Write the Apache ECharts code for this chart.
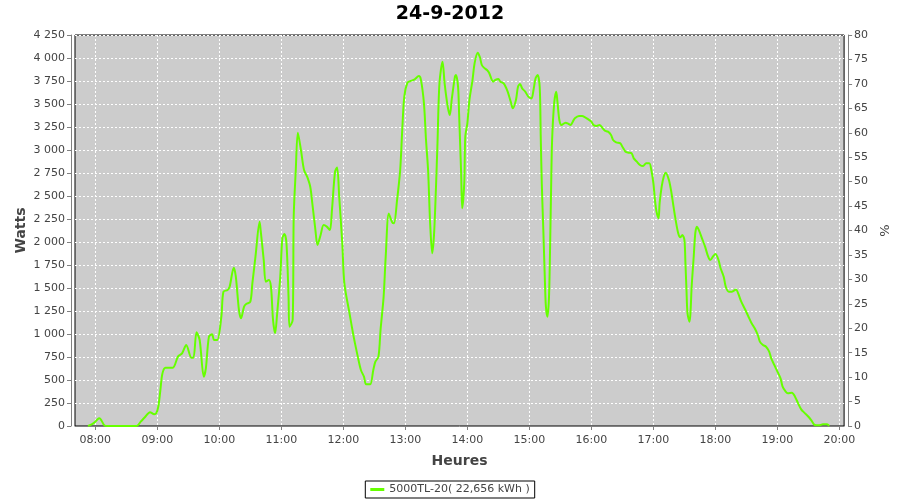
<!DOCTYPE html>
<html><head><meta charset="utf-8">
<script src="https://cdn.jsdelivr.net/npm/echarts@6/dist/echarts.min.js"></script>
<style>html,body{margin:0;padding:0;background:#fff}#c{width:900px;height:500px}</style>
</head><body><div id="c"></div>
<script>
const chartTitle = '24-9-2012';
const seriesName = '5000TL-20( 22,656 kWh )';
const xAxisName = 'Heures';
const yAxisName = 'Watts';
const y2AxisName = '%';
const xTickLabels = ['08:00','09:00','10:00','11:00','12:00','13:00','14:00','15:00','16:00','17:00','18:00','19:00','20:00'];

const times = [
'07:53','07:57','08:00','08:02','08:04','08:06','08:09','08:12','08:40','08:44','08:48','08:53','08:57','08:59',
'09:01','09:03','09:05','09:08','09:15','09:20','09:24','09:28','09:33','09:35','09:38','09:41','09:45','09:47',
'09:50','09:53','09:55','09:58','10:02','10:04','10:08','10:10','10:14','10:16','10:19','10:21','10:24','10:26',
'10:30','10:32','10:35','10:39','10:40','10:43','10:45','10:48','10:50','10:52','10:54','10:56','10:59','11:01',
'11:03','11:05','11:07','11:08','11:11','11:12','11:14','11:16','11:19','11:22','11:25','11:28','11:30','11:33',
'11:35','11:38','11:41','11:44','11:47','11:49','11:52','11:54','11:56','11:59','12:01','12:06','12:10','12:14',
'12:17','12:20','12:22','12:26','12:29','12:31','12:34','12:36','12:39','12:41','12:44','12:47','12:49','12:52',
'12:55','12:57','12:59','13:02','13:05','13:09','13:13','13:15','13:18','13:20','13:22','13:24','13:26','13:28',
'13:31','13:33','13:36','13:38','13:41','13:43','13:45','13:48','13:49','13:51','13:52','13:53','13:54','13:55',
'13:57','13:58','14:00','14:02','14:05','14:07','14:10','14:12','14:14','14:16','14:19','14:21','14:25','14:27',
'14:30','14:32','14:35','14:37','14:39','14:42','14:44','14:47','14:49','14:51','14:53','14:56','14:59','15:02',
'15:04','15:06','15:08','15:10','15:11','15:12','15:13:30','15:15','15:16','15:17:30','15:19','15:20','15:21','15:22',
'15:24','15:26','15:27','15:29','15:31','15:35','15:37','15:40','15:42','15:44','15:48','15:51','15:54','15:57',
'16:00','16:02','16:05','16:08','16:11','16:13','16:16','16:19','16:21','16:24','16:28','16:30','16:33','16:36',
'16:39','16:41','16:44','16:47','16:50','16:53','16:56','16:58','17:00','17:01:30','17:03','17:05','17:06','17:08',
'17:10','17:12','17:15','17:17','17:19','17:21','17:24','17:26','17:28','17:30','17:31','17:32','17:33','17:35',
'17:36','17:37','17:39','17:40:30','17:42','17:44','17:47','17:50','17:53','17:55','17:58','18:00','18:03','18:05',
'18:08','18:10','18:13','18:16','18:20','18:22','18:25','18:29','18:32','18:35','18:38','18:41','18:43','18:46',
'18:49','18:52','18:54','18:57','19:00','19:03','19:05','19:08','19:10','19:14','19:17','19:20','19:23','19:26',
'19:30','19:33','19:36','19:40','19:44','19:48','19:50'
];
const watts = [
0,20,45,70,83,60,5,0,0,47,95,150,128,138,
210,391,572,634,634,754,790,880,743,743,1018,935,536,627,
971,996,935,935,1188,1460,1478,1514,1721,1623,1261,1170,1297,1326,
1351,1551,1840,2221,2130,1804,1569,1587,1514,1152,1007,1225,1623,2040,
2087,1985,1406,1080,1152,2275,2782,3188,3000,2782,2710,2601,2420,2130,
1967,2076,2185,2167,2130,2348,2764,2811,2493,1985,1551,1225,971,754,
609,536,453,453,609,699,754,1043,1406,1840,2311,2221,2203,2456,
2782,3217,3580,3732,3750,3768,3804,3768,3507,3109,2782,2203,1877,2130,
3036,3725,3960,3725,3471,3380,3560,3797,3815,3688,3398,3072,2746,2366,
2638,3145,3290,3543,3761,3942,4058,4014,3924,3895,3869,3840,3743,3761,
3772,3743,3725,3688,3634,3525,3453,3543,3688,3717,3670,3634,3580,3561,
3652,3779,3815,3688,3145,2638,2130,1587,1297,1188,1406,1913,2565,3109,
3507,3634,3543,3326,3272,3297,3290,3272,3308,3344,3369,3369,3355,3333,
3308,3272,3261,3272,3235,3210,3199,3163,3109,3083,3072,3036,2982,2971,
2964,2909,2873,2837,2826,2855,2855,2782,2638,2456,2330,2257,2420,2601,
2710,2753,2674,2565,2420,2275,2094,2051,2076,2022,1768,1478,1225,1134,
1261,1514,1840,2094,2167,2130,2040,1949,1840,1804,1848,1869,1804,1714,
1623,1514,1460,1460,1485,1442,1351,1261,1188,1116,1062,989,917,880,
862,808,735,663,591,518,428,373,355,362,319,246,181,145,
101,58,11,7,18,18,0
];

const xMinTime = '07:40:24';
const xMaxTime = '20:04:30';
const yMax = 4250, yStep = 250;
const y2Max = 80, y2Step = 5;

function toMin(s) {
  const p = s.split(':').map(Number);
  return p[0] * 60 + p[1] + (p[2] || 0) / 60;
}
function pad(n) { return (n < 10 ? '0' : '') + n; }
function fmtTime(v) {
  const m = Math.round(v);
  return pad(Math.floor(m / 60)) + ':' + pad(m % 60);
}
function fmtW(v) {
  if (v >= 1000) return Math.floor(v / 1000) + ' ' + String(v % 1000).padStart(3, '0');
  return String(v);
}

const data = times.map((t, i) => [toMin(t), watts[i]]);
const xTickValues = xTickLabels.map(toMin);
const FONT = 'DejaVu Sans';
const grey = '#808080';
const txt = '#444444';

const chart = echarts.init(document.getElementById('c'), null, { renderer: 'canvas' });
chart.setOption({
  animation: false,
  backgroundColor: '#ffffff',
  title: {
    text: chartTitle, left: 'center', top: 5, padding: 0,
    textStyle: { fontFamily: FONT, fontSize: 19, fontWeight: 'bold', color: '#000' }
  },
  legend: {
    bottom: 2, left: 'center',
    padding: [3, 5],
    borderColor: '#000', borderWidth: 1,
    icon: 'rect', itemWidth: 14, itemHeight: 3,
    itemGap: 5,
    textStyle: { fontFamily: FONT, fontSize: 11, color: txt },
    data: [seriesName]
  },
  grid: {
    left: 75, right: 54, top: 35, bottom: 74,
    show: true, backgroundColor: '#cccccc', borderColor: '#000', borderWidth: 1
  },
  xAxis: {
    type: 'value',
    min: toMin(xMinTime), max: toMin(xMaxTime),
    offset: 4,
    name: xAxisName, nameLocation: 'middle', nameGap: 24,
    nameTextStyle: { fontFamily: FONT, fontSize: 14, fontWeight: 'bold', color: txt },
    axisLine: { show: true, lineStyle: { color: grey, width: 1 } },
    axisTick: { show: true, length: 4, customValues: xTickValues, lineStyle: { color: grey } },
    axisLabel: { customValues: xTickValues, margin: 5, fontFamily: FONT, fontSize: 11, color: txt, formatter: fmtTime },
    splitLine: { show: true, lineStyle: { color: '#ffffff', type: [2, 2], width: 1 } }
  },
  yAxis: [{
    type: 'value', min: 0, max: yMax, interval: yStep,
    position: 'left', offset: 4,
    name: yAxisName, nameLocation: 'middle', nameGap: 43, nameMoveOverlap: false,
    nameTextStyle: { fontFamily: FONT, fontSize: 14, fontWeight: 'bold', color: txt },
    axisLine: { show: true, lineStyle: { color: grey, width: 1 } },
    axisTick: { show: true, length: 4, lineStyle: { color: grey } },
    axisLabel: { margin: 6, fontFamily: FONT, fontSize: 11, color: txt, formatter: fmtW },
    splitLine: { show: true, lineStyle: { color: '#ffffff', type: [2, 2], width: 1 } }
  }, {
    type: 'value', min: 0, max: y2Max, interval: y2Step,
    position: 'right', offset: 4,
    name: y2AxisName, nameLocation: 'middle', nameGap: 26,
    nameTextStyle: { fontFamily: FONT, fontSize: 13, color: txt },
    axisLine: { show: true, lineStyle: { color: grey, width: 1 } },
    axisTick: { show: true, length: 4, lineStyle: { color: grey } },
    axisLabel: { margin: 6, fontFamily: FONT, fontSize: 11, color: txt },
    splitLine: { show: false }
  }],
  series: [{
    name: seriesName, type: 'line', yAxisIndex: 0,
    data: data, showSymbol: false, symbol: 'none',
    smooth: 0.3,
    lineStyle: { color: '#66ff00', width: 2 },
    itemStyle: { color: '#66ff00' }
  }]
});
</script></body></html>
